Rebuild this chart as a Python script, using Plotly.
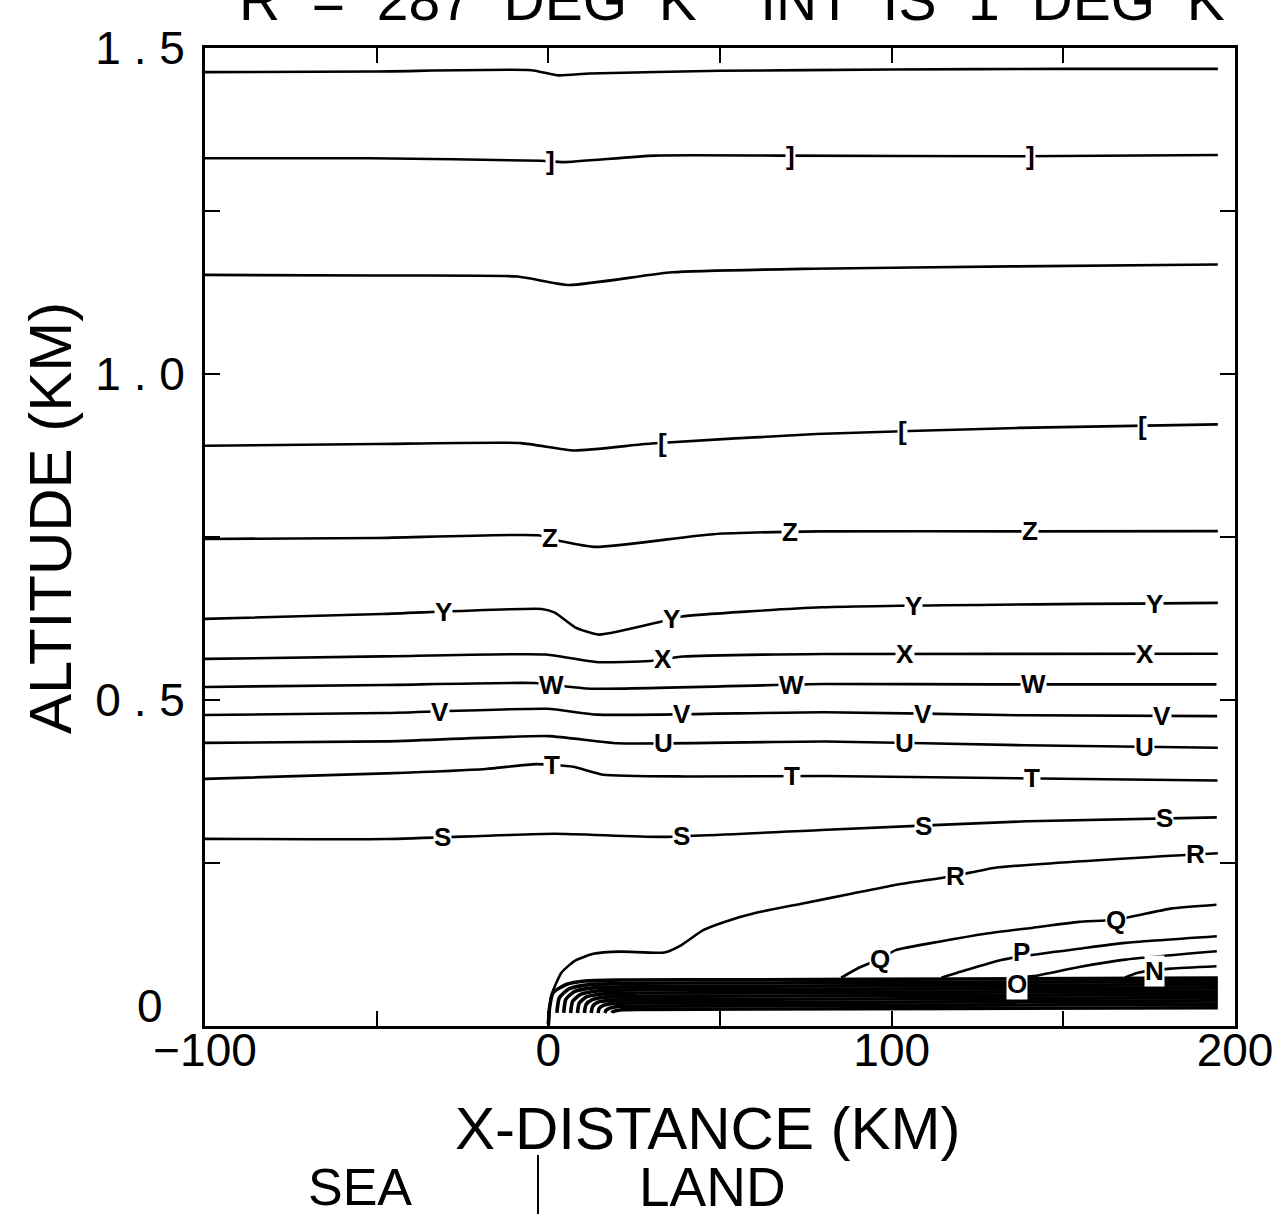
import numpy as np
import plotly.graph_objects as go

# potential temperature isolines, 1 K apart; letters are the plotter's contour labels
# x in km (sea < 0 < land), altitude in km

X_CARET = [-100, -50, -5, 3, 12, 50, 100, 150, 195]
A_CARET = [1.463, 1.464, 1.466, 1.458, 1.461, 1.465, 1.467, 1.468, 1.468]

X_RBR = [-100, -52, -2, 4.5, 31, 68, 138, 195]
A_RBR = [1.331, 1.331, 1.327, 1.325, 1.335, 1.335, 1.334, 1.336]
LBL_RBR = [0.7, 70.6, 140.5]

X_BSL = [-100, -51, -9, 6, 36, 77, 135, 195]
A_BSL = [1.152, 1.151, 1.1495, 1.1365, 1.156, 1.1615, 1.165, 1.168]

X_LBR = [-100, -50, -8, 7.6, 30, 78, 137, 195]
A_LBR = [0.890, 0.8926, 0.894, 0.8827, 0.8933, 0.908, 0.9173, 0.9227]
LBL_LBR = [33.3, 103.2, 173.0]

X_Z = [-100, -50, -3, 3.4, 14, 48, 79, 140, 195]
A_Z = [0.747, 0.7485, 0.7526, 0.744, 0.7348, 0.7543, 0.7587, 0.7586, 0.759]
LBL_Z = [0.5, 70.4, 140.3]

X_Y = [-100, -48.5, -1.9, 1.9, 7.8, 14.7, 33, 38.9, 79.6, 195]
A_Y = [0.6244, 0.6319, 0.6397, 0.634, 0.6115, 0.6003, 0.6204, 0.628, 0.6422, 0.649]
LBL_Y = [-30.6, 36.0, 106.4, 176.6]

X_X = [-100, -48.2, -0.7, 13.8, 29.6, 39.2, 80, 195]
A_X = [0.563, 0.5669, 0.5698, 0.5583, 0.5598, 0.5667, 0.5706, 0.5709]
LBL_X = [33.4, 103.8, 173.7]

X_W = [-100, -47.9, -4.2, 12.3, 80.2, 128.8, 194.6]
A_W = [0.520, 0.523, 0.526, 0.5173, 0.5245, 0.5239, 0.5239]
LBL_W = [1.0, 70.9, 141.3]

X_V = [-100, -47.7, -0.3, 14.3, 80.4, 138.6, 194.8]
A_V = [0.477, 0.480, 0.4865, 0.4775, 0.4813, 0.4765, 0.4753]
LBL_V = [-31.5, 39.0, 109.2, 178.8]

X_U = [-100, -47.5, 0, 20.3, 80.6, 138.8, 195]
A_U = [0.4342, 0.4365, 0.4446, 0.4336, 0.4363, 0.4305, 0.4267]
LBL_U = [33.4, 103.6, 173.5]

X_T = [-100, -47.3, -18.2, -3.6, 7.2, 15.9, 40, 80.8, 194.9]
A_T = [0.379, 0.3874, 0.3942, 0.4017, 0.3975, 0.3854, 0.3827, 0.3834, 0.3765]
LBL_T = [1.2, 70.9, 141.0]

X_S = [-100, -46.9, 1.7, 32.6, 81.2, 139.4, 194.7]
A_S = [0.287, 0.2868, 0.2948, 0.29, 0.301, 0.314, 0.320]
LBL_S = [-30.9, 38.9, 109.3, 179.4]

X_R = [0.1, 0.8, 3.8, 7.7, 13.1, 21.1, 33.8, 38.5, 45.1, 51.5, 60.8, 74.1, 87.5, 100.7, 118.5, 130.2, 184.4, 195]
A_R = [0.0, 0.0455, 0.0818, 0.100, 0.1107, 0.114, 0.1126, 0.1233, 0.147, 0.160, 0.174, 0.188, 0.202, 0.216, 0.2305, 0.2428, 0.262, 0.265]
LBL_R = [118.5, 188.4]

X_Q = [85.3, 90.6, 96.6, 101.2, 114.5, 127.8, 141.1, 154.5, 165.2, 181.3, 194.6]
A_Q = [0.074, 0.0897, 0.103, 0.1164, 0.130, 0.1419, 0.1508, 0.1597, 0.163, 0.180, 0.186]
LBL_Q = [96.6, 165.2]

X_P = [114.5, 121.2, 131.9, 137.9, 154.6, 168, 194.7]
A_P = [0.074, 0.085, 0.1012, 0.107, 0.1186, 0.1275, 0.1376]
LBL_P = [137.9]

X_O = [134, 141.3, 154.6, 168, 194.7]
A_O = [0.0735, 0.0765, 0.0906, 0.1018, 0.1146]
LBL_O = [136.5]

X_N = [168, 172, 181.3, 194.6]
A_N = [0.0745, 0.082, 0.088, 0.0916]
LBL_N = [176.6]

# the packed surface layer over land (too dense to read labels)
X_M = [0.0, 0.4, 1.4, 5.4, 10.7, 21.3, 60, 120, 195]
A_M = [0.003, 0.030, 0.051, 0.064, 0.069, 0.0705, 0.071, 0.072, 0.0735]
X_L = [2.5, 3.2, 6.0, 11.9, 26, 60, 120, 195]
A_L = [0.020, 0.043, 0.057, 0.0635, 0.0655, 0.066, 0.067, 0.0685]
X_K = [4.5, 5.1, 7.7, 13.1, 26, 60, 120, 195]
A_K = [0.020, 0.041, 0.053, 0.0585, 0.0605, 0.061, 0.062, 0.0635]
X_J = [6.5, 7.1, 9.4, 14.3, 26, 60, 120, 195]
A_J = [0.020, 0.038, 0.0485, 0.0538, 0.0555, 0.056, 0.057, 0.0585]
X_I = [8.5, 9.0, 11.1, 15.5, 26, 60, 120, 195]
A_I = [0.020, 0.035, 0.0445, 0.049, 0.0505, 0.051, 0.052, 0.0535]
X_H = [10.5, 11.0, 12.8, 16.7, 26, 60, 120, 195]
A_H = [0.020, 0.033, 0.0405, 0.0443, 0.0455, 0.046, 0.047, 0.0485]
X_G = [12.5, 12.9, 14.5, 17.9, 26, 60, 120, 195]
A_G = [0.020, 0.030, 0.0365, 0.0395, 0.0405, 0.041, 0.042, 0.0435]
X_F = [14.5, 14.8, 16.2, 19.1, 26, 60, 120, 195]
A_F = [0.020, 0.027, 0.032, 0.0347, 0.0355, 0.036, 0.037, 0.0385]
X_E = [16.5, 16.8, 17.9, 20.3, 26, 60, 120, 195]
A_E = [0.020, 0.024, 0.0275, 0.0298, 0.0305, 0.031, 0.032, 0.0335]
X_D = [18.5, 18.7, 19.6, 21.5, 26, 60, 120, 195]
A_D = [0.020, 0.0215, 0.0235, 0.025, 0.0255, 0.026, 0.027, 0.028]

X_TICKS = [-100, -50, 0, 50, 100, 150, 200]
X_TICKTEXT = ["\u2212100", "", "0", "", "100", "", "200"]
Y_TICKS = [0, 0.25, 0.5, 0.75, 1.0, 1.25, 1.5]
Y_TICKTEXT = ["", "", "0 . 5", "", "1 . 0", "", "1 . 5"]

labelled = [
    ("^", X_CARET, A_CARET, []),
    ("]", X_RBR, A_RBR, LBL_RBR),
    ("\\", X_BSL, A_BSL, []),
    ("[", X_LBR, A_LBR, LBL_LBR),
    ("Z", X_Z, A_Z, LBL_Z),
    ("Y", X_Y, A_Y, LBL_Y),
    ("X", X_X, A_X, LBL_X),
    ("W", X_W, A_W, LBL_W),
    ("V", X_V, A_V, LBL_V),
    ("U", X_U, A_U, LBL_U),
    ("T", X_T, A_T, LBL_T),
    ("S", X_S, A_S, LBL_S),
    ("R", X_R, A_R, LBL_R),
    ("Q", X_Q, A_Q, LBL_Q),
    ("P", X_P, A_P, LBL_P),
    ("O", X_O, A_O, LBL_O),
    ("N", X_N, A_N, LBL_N),
]
band = [(X_M, A_M), (X_L, A_L), (X_K, A_K), (X_J, A_J), (X_I, A_I),
        (X_H, A_H), (X_G, A_G), (X_F, A_F), (X_E, A_E), (X_D, A_D)]

# small nudges so the crowded O / P labels don't sit on each other
label_shift = {"O": -7, "P": 4}

fig = go.Figure()

for xs, als in band:
    fig.add_trace(go.Scatter(x=xs, y=als, mode="lines",
                             line=dict(color="black", width=3.6, shape="spline", smoothing=0.6),
                             hoverinfo="skip", showlegend=False))

lab_font = dict(family="Liberation Sans, Arial, sans-serif", size=26, color="black", weight="bold")
annotations = []
for name, xs, als, lbls in labelled:
    fig.add_trace(go.Scatter(x=xs, y=als, mode="lines", name=name,
                             line=dict(color="black", width=2.6, shape="spline", smoothing=0.5),
                             showlegend=False))
    for lx in lbls:
        annotations.append(dict(
            x=lx, y=float(np.interp(lx, xs, als)), xref="x", yref="y",
            xanchor="center", yanchor="middle", yshift=label_shift.get(name, 0),
            text=name, showarrow=False, bgcolor="white", borderpad=0, font=lab_font,
        ))

# page pixel -> paper fraction (plot box is 205..1235 x 48..1026)
def pxx(p):
    return (p - 205) / 1030


def pxy(p):
    return (1026 - p) / 978


txt = dict(family="Liberation Sans, Arial, sans-serif", color="black")


def page_text(text, x, y, size, **kw):
    return dict(x=pxx(x), y=pxy(y), xref="paper", yref="paper",
                xanchor=kw.pop("xanchor", "center"), yanchor=kw.pop("yanchor", "middle"),
                text=text, showarrow=False, font=dict(size=size, **txt), **kw)


annotations += [
    page_text("R  =  287  DEG  K    INT  IS  1  DEG  K", 237, 34, 57,
              xanchor="left", yanchor="bottom"),
    page_text("X-DISTANCE (KM)", 708, 1128, 60),
    page_text("ALTITUDE (KM)", 50, 518, 60, textangle=-90),
    page_text("SEA", 360, 1187, 52),
    page_text("LAND", 712, 1187, 55),
    page_text("0", 150, 1006, 46),
]

fig.add_shape(type="line", xref="paper", yref="paper",
              x0=pxx(538), x1=pxx(538), y0=pxy(1155), y1=pxy(1214),
              line=dict(color="black", width=2))

axis_common = dict(showline=True, linecolor="black", linewidth=3, mirror="ticks",
                   ticks="inside", ticklen=15, tickwidth=2, tickcolor="black",
                   showgrid=False, zeroline=False, automargin=False,
                   tickfont=dict(size=46, **txt))

fig.update_xaxes(range=[-100, 200], tickmode="array", tickvals=X_TICKS, ticktext=X_TICKTEXT,
                 ticklabelstandoff=-18, **axis_common)
fig.update_yaxes(range=[0, 1.5], tickmode="array", tickvals=Y_TICKS, ticktext=Y_TICKTEXT,
                 ticklabelstandoff=8, **axis_common)

fig.update_layout(
    width=1277, height=1214,
    margin=dict(l=205, r=42, t=48, b=188, autoexpand=False),
    paper_bgcolor="white", plot_bgcolor="white",
    annotations=annotations,
    showlegend=False,
)

# the page's default body margin would push the figure off by a few pixels
fig.write_html("out.html", config={"displayModeBar": False},
               post_script="document.body.style.margin='0';")
